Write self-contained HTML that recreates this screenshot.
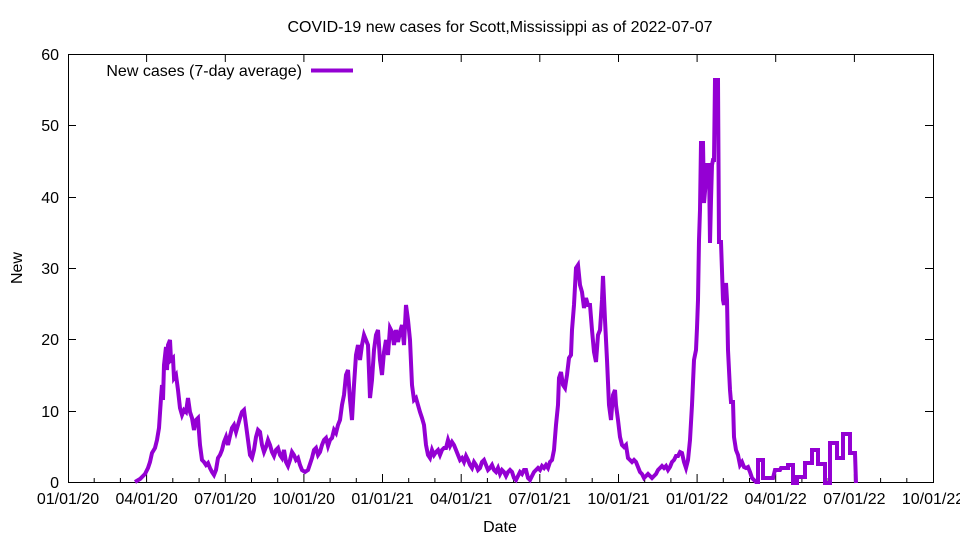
<!DOCTYPE html>
<html><head><meta charset="utf-8"><style>
body{margin:0;background:#fff}
svg text{font-family:"Liberation Sans",sans-serif;font-size:16px;fill:#000}
</style></head><body>
<svg width="960" height="540" viewBox="0 0 960 540" xmlns="http://www.w3.org/2000/svg">
<rect width="960" height="540" fill="#fff"/>
<text x="500" y="32" text-anchor="middle">COVID-19 new cases for Scott,Mississippi as of 2022-07-07</text>
<g stroke="#000" stroke-width="1" fill="none">
<rect x="68.5" y="54.5" width="865" height="428"/>
<path d="M68 411.5h8M68 339.5h8M68 268.5h8M68 197.5h8M68 125.5h8M925 411.5h8M925 339.5h8M925 268.5h8M925 197.5h8M925 125.5h8"/>
<path d="M146.6 482v-8M225.3 482v-8M303.9 482v-8M382.5 482v-8M461.2 482v-8M539.8 482v-8M618.5 482v-8M697.1 482v-8M775.7 482v-8M854.4 482v-8M146.6 54v8M225.3 54v8M303.9 54v8M382.5 54v8M461.2 54v8M539.8 54v8M618.5 54v8M697.1 54v8M775.7 54v8M854.4 54v8"/>
<path d="M94.2 482v-4M120.4 482v-4M172.8 482v-4M199.1 482v-4M251.5 482v-4M277.7 482v-4M330.1 482v-4M356.3 482v-4M408.7 482v-4M434.9 482v-4M487.4 482v-4M513.6 482v-4M566 482v-4M592.2 482v-4M644.7 482v-4M670.9 482v-4M723.3 482v-4M749.5 482v-4M801.9 482v-4M828.1 482v-4M880.6 482v-4M906.8 482v-4"/>
</g>
<g text-anchor="end">
<text x="59" y="488">0</text><text x="59" y="417">10</text><text x="59" y="345">20</text><text x="59" y="274">30</text><text x="59" y="203">40</text><text x="59" y="131">50</text><text x="59" y="60">60</text>
</g>
<g text-anchor="middle">
<text x="68" y="504">01/01/20</text><text x="146.6" y="504">04/01/20</text><text x="225.3" y="504">07/01/20</text><text x="303.9" y="504">10/01/20</text><text x="382.5" y="504">01/01/21</text><text x="461.2" y="504">04/01/21</text><text x="539.8" y="504">07/01/21</text><text x="618.5" y="504">10/01/21</text><text x="697.1" y="504">01/01/22</text><text x="775.7" y="504">04/01/22</text><text x="854.4" y="504">07/01/22</text><text x="933" y="504">10/01/22</text>
<text x="500" y="532">Date</text>
</g>
<text x="22" y="268" text-anchor="middle" transform="rotate(-90 22 268)">New</text>
<text x="302" y="76" text-anchor="end">New cases (7-day average)</text>
<line x1="311" y1="70.5" x2="353" y2="70.5" stroke="#9400d3" stroke-width="4"/>
<polyline fill="none" stroke="#9400d3" stroke-width="4" stroke-linejoin="miter" points="135,482 140,479 145,474 148,468 150,462 152,453 155,448 157,440 159,428 161,398 162,385 163,400 164,365 166,347 167,370 168,345 170,340 171,360 173,358 174,378 176,375 178,390 180,408 182,415 184,410 186,412 188,398 190,412 192,418 194,430 196,420 198,418 199,432 200,445 202,460 204,462 206,465 208,463 210,468 212,472 214,475 216,470 218,458 220,455 222,450 224,442 226,437 228,445 230,436 232,428 234,425 236,432 238,425 240,418 242,412 244,410 246,425 248,440 250,455 252,458 254,450 256,437 258,430 260,432 262,445 264,452 266,447 268,440 270,445 272,452 274,456 276,450 278,448 280,455 282,458 284,450 286,462 288,466 290,460 292,452 294,455 296,460 298,458 300,465 302,470 305,472 308,470 310,464 312,458 314,450 316,448 318,455 320,452 322,445 324,440 326,438 328,446 330,440 332,438 334,430 336,433 338,425 340,420 342,405 344,395 346,375 348,370 350,400 352,420 354,385 356,355 358,345 360,360 362,345 364,335 366,340 368,345 370,398 372,380 374,350 376,335 378,330 380,360 382,375 384,352 386,340 388,355 390,328 392,332 394,345 396,330 398,342 400,332 402,325 404,345 406,305 408,320 410,340 412,385 414,400 416,398 418,405 420,412 422,418 424,425 426,445 428,455 430,458 432,450 434,455 436,452 438,450 440,455 442,450 444,448 446,448 448,440 450,446 452,442 454,445 456,450 458,455 460,460 462,458 464,462 466,456 468,460 470,465 472,468 474,462 476,465 478,470 480,468 482,462 484,460 486,465 488,470 490,468 492,465 494,470 496,472 498,468 500,474 502,470 504,472 506,476 508,472 510,470 512,472 514,478 516,480 518,476 520,472 522,474 524,470 526,470 528,478 530,480 532,476 534,472 536,470 538,468 540,470 542,466 544,468 546,465 548,468 550,462 552,460 554,450 556,425 558,405 559,378 561,372 563,385 565,388 567,375 569,358 571,355 572,330 574,305 576,268 578,265 580,285 582,292 584,308 586,298 588,305 590,305 592,330 594,352 596,362 598,335 600,330 602,300 603,276 605,320 607,360 609,405 611,420 613,395 615,390 616,405 618,420 620,437 622,445 624,447 626,445 628,458 630,460 632,462 634,460 636,462 638,467 640,472 642,474 644,478 646,476 648,474 650,476 652,478 654,476 656,474 658,470 660,468 662,466 664,468 666,466 668,470 670,467 672,462 674,460 676,456 678,456 680,452 682,453 684,462 686,468 688,460 690,440 692,405 694,360 696,350 697,328 698,300 699,240 700,210 701,143 703,143 704,203 706,180 707,165 709,165 710,243 711,200 712,165 713,160 714,160 715,80 718,80 719,242 721,242 723,300 724,305 726,283 727,300 728,350 730,390 731,402 733,402 734,437 736,450 738,455 740,465 742,462 744,467 746,468 748,467 750,472 752,478 754,480 756,482 758,482 758,460 763,460 763,478 773,478 775,470 780,470 781,468 788,468 788,465 793,465 793,483 797,483 797,477 805,477 805,463 812,463 812,450 818,450 818,464 825,464 825,483 830,483 830,443 837,443 837,458 843,458 843,434 850,434 850,453 855,453 856,483"/>
</svg>
</body></html>
